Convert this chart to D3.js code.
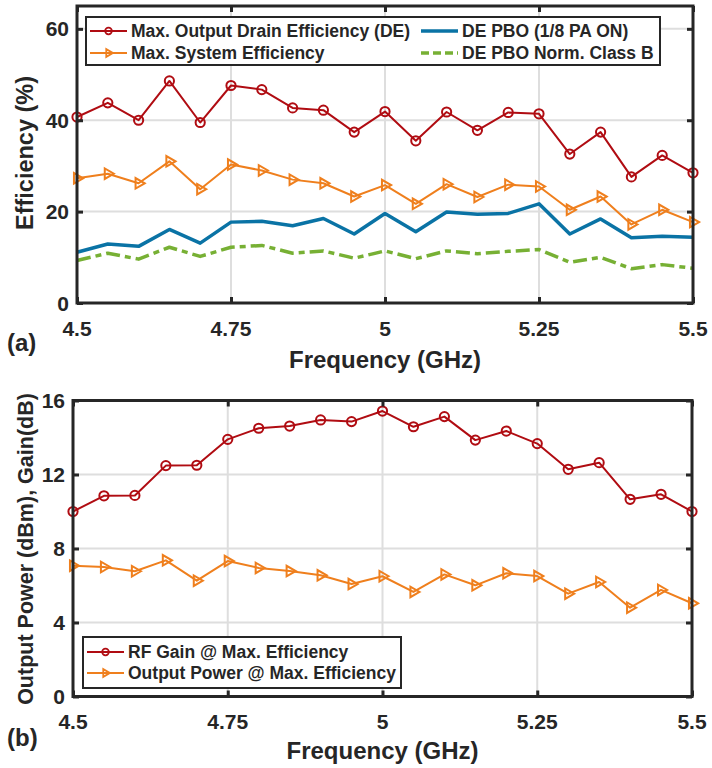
<!DOCTYPE html>
<html>
<head>
<meta charset="utf-8">
<script src="https://cdn.jsdelivr.net/npm/d3@7"></script>
<style>
  html, body { margin: 0; padding: 0; background: #fff; }
  svg { display: block; }
  text { font-family: "Liberation Sans", Arial, Helvetica, sans-serif; font-weight: bold; fill: #262626; }
</style>
</head>
<body>
<svg id="fig" width="712" height="768"></svg>
<script>
// Frequency sweep (GHz)
const freq = [4.5, 4.55, 4.6, 4.65, 4.7, 4.75, 4.8, 4.85, 4.9, 4.95, 5.0,
              5.05, 5.1, 5.15, 5.2, 5.25, 5.3, 5.35, 5.4, 5.45, 5.5];

// (a) efficiencies, %
const drainEff  = [40.7, 43.8, 40.0, 48.6, 39.5, 47.6, 46.7, 42.7, 42.2, 37.4, 41.9,
                   35.5, 41.8, 37.8, 41.7, 41.4, 32.6, 37.4, 27.6, 32.3, 28.5];
const systemEff = [27.3, 28.3, 26.2, 31.0, 24.9, 30.3, 29.0, 27.0, 26.2, 23.3, 25.8,
                   21.7, 26.0, 23.2, 25.9, 25.5, 20.4, 23.3, 17.2, 20.4, 17.7];
const pboEff    = [11.1, 12.9, 12.4, 16.1, 13.1, 17.7, 17.9, 16.9, 18.5, 15.1, 19.6,
                   15.6, 19.9, 19.4, 19.6, 21.7, 15.1, 18.4, 14.3, 14.6, 14.4];
const classBEff = [9.3, 10.9, 9.6, 12.2, 10.2, 12.2, 12.6, 10.9, 11.4, 9.8, 11.4,
                   9.7, 11.4, 10.8, 11.3, 11.7, 8.9, 10.0, 7.5, 8.4, 7.6];

// (b) gain (dB) and output power (dBm)
const rfGain   = [10.0, 10.85, 10.87, 12.48, 12.5, 13.9, 14.5, 14.62, 14.95, 14.86, 15.43,
                  14.58, 15.13, 13.86, 14.35, 13.67, 12.28, 12.64, 10.66, 10.93, 10.0];
const outPower = [7.07, 7.0, 6.77, 7.36, 6.26, 7.32, 6.95, 6.78, 6.55, 6.08, 6.5,
                  5.65, 6.6, 6.01, 6.66, 6.51, 5.56, 6.19, 4.8, 5.76, 5.04];

// Axis ticks
const xTicks = [4.5, 4.75, 5, 5.25, 5.5];
const xTickLabels = ["4.5", "4.75", "5", "5.25", "5.5"];
const yTicksA = [0, 20, 40, 60];
const yTicksB = [0, 4, 8, 12, 16];

const C = {
  red: "#b00c12",
  orange: "#ef7f1d",
  blue: "#0a73a5",
  green: "#77b034",
  axis: "#262626",
  grid: "#dedede"
};

const svg = d3.select("#fig");

function drawPanel(cfg) {
  const x = d3.scaleLinear().domain([4.5, 5.5]).range([cfg.left, cfg.right]);
  const y = d3.scaleLinear().domain(cfg.yDomain).range([cfg.bottom, cfg.top]);
  const g = svg.append("g");

  // grid
  g.selectAll(".gx").data(xTicks.slice(1, -1)).join("line")
    .attr("x1", d => x(d)).attr("x2", d => x(d))
    .attr("y1", cfg.top).attr("y2", cfg.bottom)
    .attr("stroke", C.grid).attr("stroke-width", 2);
  g.selectAll(".gy").data(cfg.yTicks.filter(t => t > cfg.yDomain[0] && t < cfg.yDomain[1])).join("line")
    .attr("x1", cfg.left).attr("x2", cfg.right)
    .attr("y1", d => y(d)).attr("y2", d => y(d))
    .attr("stroke", C.grid).attr("stroke-width", 2);

  // series
  cfg.series.forEach(s => {
    const pts = freq.map((f, i) => [f, s.values[i]]);
    const line = d3.line().x(d => x(d[0])).y(d => y(d[1]));
    g.append("path").attr("d", line(pts))
      .attr("fill", "none").attr("stroke", s.color)
      .attr("stroke-width", s.width)
      .attr("stroke-dasharray", s.dash || null)
      .attr("stroke-linejoin", "round");
    if (s.marker === "circle") {
      g.selectAll(null).data(pts).join("circle")
        .attr("cx", d => x(d[0])).attr("cy", d => y(d[1])).attr("r", 4.6)
        .attr("fill", "none").attr("stroke", s.color).attr("stroke-width", 2);
    } else if (s.marker === "tri") {
      const sym = d3.symbol(d3.symbolTriangle, 48)();
      g.selectAll(null).data(pts).join("path")
        .attr("d", sym)
        .attr("transform", d => `translate(${x(d[0])},${y(d[1])}) rotate(90)`)
        .attr("fill", "none").attr("stroke", s.color).attr("stroke-width", 2);
    }
  });

  // axes box with inward ticks on all sides
  const axB = d3.axisBottom(x).tickValues(xTicks).tickSize(-6).tickFormat("");
  const axT = d3.axisTop(x).tickValues(xTicks).tickSize(-6).tickFormat("");
  const axL = d3.axisLeft(y).tickValues(cfg.yTicks).tickSize(-6).tickFormat("");
  const axR = d3.axisRight(y).tickValues(cfg.yTicks).tickSize(-6).tickFormat("");
  [[axB, `translate(0,${cfg.bottom})`], [axT, `translate(0,${cfg.top})`],
   [axL, `translate(${cfg.left},0)`], [axR, `translate(${cfg.right},0)`]].forEach(([ax, tr]) => {
    const a = g.append("g").attr("transform", tr).call(ax);
    a.select(".domain").remove();
    a.selectAll("line").attr("stroke", C.axis).attr("stroke-width", 3);
  });
  g.append("rect")
    .attr("x", cfg.left).attr("y", cfg.top)
    .attr("width", cfg.right - cfg.left).attr("height", cfg.bottom - cfg.top)
    .attr("fill", "none").attr("stroke", C.axis).attr("stroke-width", 3);

  // tick labels
  g.selectAll(null).data(xTicks).join("text")
    .attr("x", d => x(d)).attr("y", cfg.bottom + 25)
    .attr("text-anchor", "middle").attr("dominant-baseline", "central")
    .attr("font-size", 21)
    .text((d, i) => xTickLabels[i]);
  g.selectAll(null).data(cfg.yTicks).join("text")
    .attr("x", cfg.left - 8).attr("y", d => y(d))
    .attr("text-anchor", "end").attr("dominant-baseline", "central")
    .attr("font-size", 21)
    .text(d => d);

  // axis titles
  g.append("text")
    .attr("x", (cfg.left + cfg.right) / 2).attr("y", cfg.bottom + cfg.xTitleOffset)
    .attr("text-anchor", "middle").attr("font-size", 24)
    .text("Frequency (GHz)");
  g.append("text")
    .attr("transform", `translate(33,${cfg.yTitleY}) rotate(-90)`)
    .attr("text-anchor", "middle").attr("font-size", cfg.yTitleSize)
    .text(cfg.yTitle);
  g.append("text")
    .attr("x", 7).attr("y", cfg.panelLabelY)
    .attr("font-size", 24)
    .text(cfg.panelLabel);

  // legend
  const L = cfg.legend;
  g.append("rect")
    .attr("x", L.x).attr("y", L.y).attr("width", L.w).attr("height", L.h)
    .attr("fill", "#fff").attr("stroke", C.axis).attr("stroke-width", 2);
  L.items.forEach(it => {
    const s = cfg.series[it.idx];
    g.append("line")
      .attr("x1", it.x).attr("x2", it.x + 37).attr("y1", it.y).attr("y2", it.y)
      .attr("stroke", s.color).attr("stroke-width", s.width)
      .attr("stroke-dasharray", s.legendDash || null);
    if (s.marker === "circle") {
      g.append("circle").attr("cx", it.x + 18.5).attr("cy", it.y).attr("r", 3.3)
        .attr("fill", "none").attr("stroke", s.color).attr("stroke-width", 1.8);
    } else if (s.marker === "tri") {
      g.append("path").attr("d", d3.symbol(d3.symbolTriangle, 26)())
        .attr("transform", `translate(${it.x + 18.5},${it.y}) rotate(90)`)
        .attr("fill", "none").attr("stroke", s.color).attr("stroke-width", 1.8);
    }
    g.append("text")
      .attr("x", it.x + 41).attr("y", it.y)
      .attr("dominant-baseline", "central").attr("font-size", 17.5)
      .text(s.name);
  });
}

drawPanel({
  left: 77, right: 693, top: 6, bottom: 303,
  yDomain: [0, 65], yTicks: yTicksA,
  yTitle: "Efficiency (%)", yTitleY: 153, yTitleSize: 23.5,
  xTitleOffset: 65, panelLabel: "(a)", panelLabelY: 351,
  series: [
    { name: "Max. Output Drain Efficiency (DE)", values: drainEff, color: C.red, width: 2, marker: "circle" },
    { name: "Max. System Efficiency", values: systemEff, color: C.orange, width: 2, marker: "tri" },
    { name: "DE PBO (1/8 PA ON)", values: pboEff, color: C.blue, width: 3.5 },
    { name: "DE PBO Norm. Class B", values: classBEff, color: C.green, width: 3.5, dash: "14,5,6,5", legendDash: "8,4" }
  ],
  legend: {
    x: 86, y: 17, w: 574, h: 48,
    items: [
      { idx: 0, x: 90, y: 31 }, { idx: 1, x: 90, y: 53 },
      { idx: 2, x: 421, y: 31 }, { idx: 3, x: 421, y: 53 }
    ]
  }
});

drawPanel({
  left: 73, right: 692, top: 400.5, bottom: 696.5,
  yDomain: [0, 16], yTicks: yTicksB,
  yTitle: "Output Power (dBm), Gain(dB)", yTitleY: 549, yTitleSize: 21.5,
  xTitleOffset: 62, panelLabel: "(b)", panelLabelY: 746,
  series: [
    { name: "RF Gain @ Max. Efficiency", values: rfGain, color: C.red, width: 2, marker: "circle" },
    { name: "Output Power @ Max. Efficiency", values: outPower, color: C.orange, width: 2, marker: "tri" }
  ],
  legend: {
    x: 83, y: 637, w: 318, h: 51,
    items: [ { idx: 0, x: 87, y: 652 }, { idx: 1, x: 87, y: 673 } ]
  }
});
</script>
</body>
</html>
